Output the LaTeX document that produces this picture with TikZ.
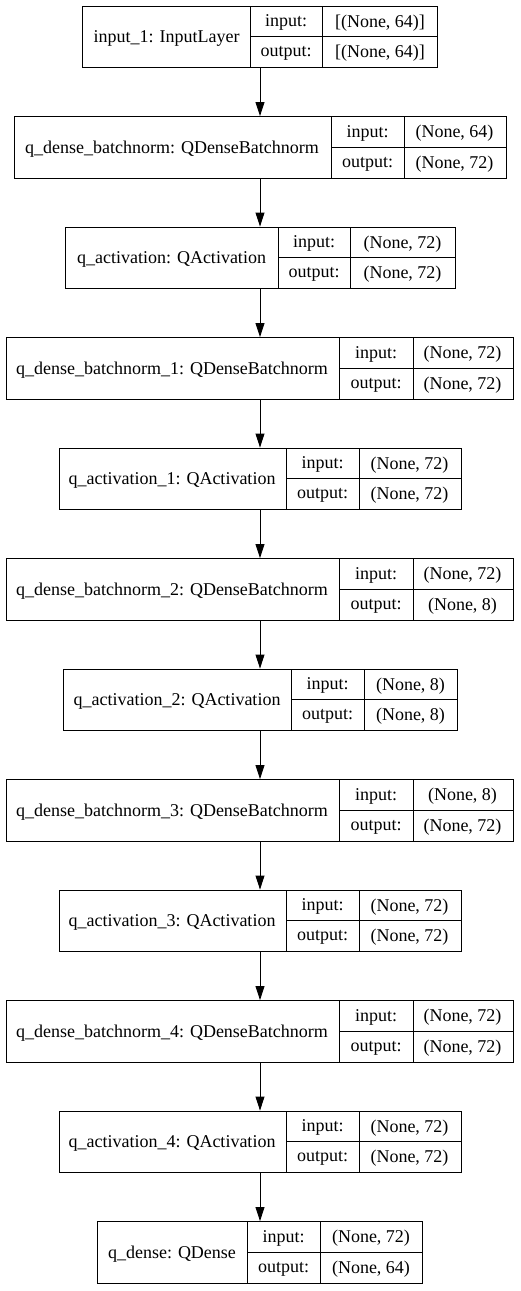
\documentclass[tikz,border=0pt]{standalone}
\usepackage{fontspec}
\setmainfont{Liberation Serif}
\usetikzlibrary{arrows.meta}

% #1 id, #2 top, #3 left, #4 first divider, #5 second divider, #6 right,
% #7 layer name, #8 input shape, #9 output shape
\newcommand{\qlayer}[9]{%
  \node[box, minimum width={#6pt-#3pt}] (b#1) at (260,{#2+30.75}) {};
  \draw[cell] (#4,#2) -- (#4,#2+61.5);
  \draw[cell] (#5,#2) -- (#5,#2+61.5);
  \draw[cell] (#4,#2+30.75) -- (b#1.east);
  \node[txt] (n#1) at ({(#3+#4)/2},{#2+32.5}) {#7};
  \node[txt] (i#1) at ({(#4+#5)/2},{#2+16.8}) {input:};
  \node[txt] (o#1) at ({(#4+#5)/2},{#2+47.6}) {output:};
  \node[txt] (vi#1) at ({(#5+#6)/2},{#2+16.8}) {#8};
  \node[txt] (vo#1) at ({(#5+#6)/2},{#2+47.6}) {#9};
}

\begin{document}
\begin{tikzpicture}[x=1pt, y=-1pt,
  box/.style = {draw, line width=0.9pt, minimum height=61.5pt, inner sep=0pt},
  cell/.style = {line width=0.9pt},
  txt/.style = {inner sep=0pt, font=\fontsize{18}{20}\selectfont},
  arr/.style = {-{Triangle[length=14pt, width=9pt]}, line width=0.9pt}]
\useasboundingbox (0,0) rectangle (520,1291);
\qlayer{1}{6}{83}{250}{322}{438}{input\_1: InputLayer}{[(None, 64)]}{[(None, 64)]}
\qlayer{2}{116.5}{13}{331}{404}{505}{q\_dense\_batchnorm: QDenseBatchnorm}{(None, 64)}{(None, 72)}
\qlayer{3}{227}{65}{278}{350}{455}{q\_activation: QActivation}{(None, 72)}{(None, 72)}
\qlayer{4}{337.5}{5}{339}{413}{512}{q\_dense\_batchnorm\_1: QDenseBatchnorm}{(None, 72)}{(None, 72)}
\qlayer{5}{448}{58}{286}{359}{460}{q\_activation\_1: QActivation}{(None, 72)}{(None, 72)}
\qlayer{6}{558.5}{5}{339}{413}{512}{q\_dense\_batchnorm\_2: QDenseBatchnorm}{(None, 72)}{(None, 8)}
\qlayer{7}{669}{63}{291}{364}{457}{q\_activation\_2: QActivation}{(None, 8)}{(None, 8)}
\qlayer{8}{779.5}{5}{339}{413}{512}{q\_dense\_batchnorm\_3: QDenseBatchnorm}{(None, 8)}{(None, 72)}
\qlayer{9}{890}{58}{286}{359}{460}{q\_activation\_3: QActivation}{(None, 72)}{(None, 72)}
\qlayer{10}{1000.5}{5}{339}{413}{512}{q\_dense\_batchnorm\_4: QDenseBatchnorm}{(None, 72)}{(None, 72)}
\qlayer{11}{1111}{58}{286}{359}{460}{q\_activation\_4: QActivation}{(None, 72)}{(None, 72)}
\qlayer{12}{1221.5}{97}{247}{320}{422}{q\_dense: QDense}{(None, 72)}{(None, 64)}
\draw[arr] (b1.south) -- (b2.north);
\draw[arr] (b2.south) -- (b3.north);
\draw[arr] (b3.south) -- (b4.north);
\draw[arr] (b4.south) -- (b5.north);
\draw[arr] (b5.south) -- (b6.north);
\draw[arr] (b6.south) -- (b7.north);
\draw[arr] (b7.south) -- (b8.north);
\draw[arr] (b8.south) -- (b9.north);
\draw[arr] (b9.south) -- (b10.north);
\draw[arr] (b10.south) -- (b11.north);
\draw[arr] (b11.south) -- (b12.north);
\end{tikzpicture}
\end{document}
